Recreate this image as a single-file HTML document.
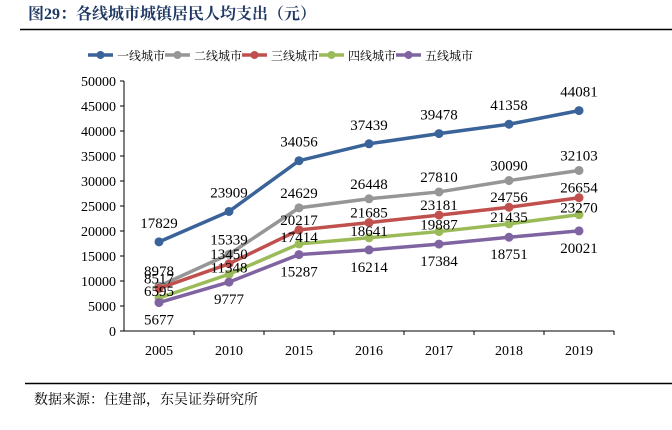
<!DOCTYPE html>
<html><head><meta charset="utf-8"><style>
body{margin:0;width:672px;height:425px;background:#fff;overflow:hidden;font-family:"Liberation Serif","Noto Serif CJK SC",serif}
</style></head><body>
<svg width="672" height="425">
<text x="28" y="19" font-size="16" font-weight="bold" fill="#1f3864" font-family="Liberation Serif, Noto Serif CJK SC, serif">图29：各线城市城镇居民人均支出（元）</text>
<line x1="20" y1="29.5" x2="672" y2="29.5" stroke="#000" stroke-width="1.5"/>
<line x1="25" y1="383.5" x2="672" y2="383.5" stroke="#000" stroke-width="1.5"/>
<text x="34" y="404" font-size="14" fill="#000" font-family="Liberation Serif, Noto Serif CJK SC, serif">数据来源：住建部，东吴证券研究所</text>
<g id="plot"></g>
</svg>
<script>
const categories=["2005","2010","2015","2016","2017","2018","2019"];
const seriesNames=["一线城市","二线城市","三线城市","四线城市","五线城市"];
const tier1=[17829,23909,34056,37439,39478,41358,44081];
const tier2=[8978,15339,24629,26448,27810,30090,32103];
const tier3=[8517,13450,20217,21685,23181,24756,26654];
const tier4=[6595,11348,17414,18641,19887,21435,23270];
const tier5=[5677,9777,15287,16214,17384,18751,20021];
const yTicks=[0,5000,10000,15000,20000,25000,30000,35000,40000,45000,50000];
const series=[tier1,tier2,tier3,tier4,tier5];
const colors=["#3a6399","#969696","#c0504d","#9bbb59","#8064a2"];
const dys=[-19,-15,-10,-7,17];
const NS="http://www.w3.org/2000/svg";
const g=document.getElementById("plot");
const x0=124,y0=331,yMax=50000,ph=250,cw=70;
const X=i=>x0+cw*(i+0.5);
const Y=v=>y0-v/yMax*ph;
function mk(t,a,p){const e=document.createElementNS(NS,t);for(const k in a)e.setAttribute(k,a[k]);(p||g).appendChild(e);return e;}
let ax=mk("line",{x1:x0,y1:y0,x2:x0+cw*categories.length,y2:y0,stroke:"#000"});


let ay=mk("line",{x1:x0,y1:Y(yMax),x2:x0,y2:y0,stroke:"#000"});


yTicks.forEach(v=>{
 mk("line",{x1:x0-4,x2:x0,y1:Y(v),y2:Y(v),stroke:"#000"});
 const t=mk("text",{x:x0-8,y:Y(v)+5,"text-anchor":"end","font-size":14});t.textContent=v;
 
 
});
categories.forEach((c,i)=>{
 mk("line",{x1:x0+cw*(i+1),x2:x0+cw*(i+1),y1:y0,y2:y0+4,stroke:"#000"});
 const t=mk("text",{x:X(i),y:y0+24,"text-anchor":"middle","font-size":14});t.textContent=c;
 
 
});
series.forEach((s,k)=>{
 const p=mk("polyline",{points:s.map((v,i)=>X(i)+","+Y(v)).join(" "),fill:"none",stroke:colors[k],"stroke-width":3.5});
 
 
 s.forEach((v,i)=>{
  const c=mk("circle",{cx:X(i),cy:Y(v),r:4.5,fill:colors[k]});
  
  
 });
});
series.forEach((s,k)=>{
 s.forEach((v,i)=>{
  const t=mk("text",{x:X(i),y:Y(v)+dys[k]+5,"text-anchor":"middle","font-size":15});t.textContent=v;
  
  
 });
});
seriesNames.forEach((n,k)=>{
 const x=88+k*77;
 mk("line",{x1:x,x2:x+25,y1:55,y2:55,stroke:colors[k],"stroke-width":3.5});
 mk("circle",{cx:x+12.5,cy:55,r:4,fill:colors[k]});
 const t=mk("text",{x:x+29,y:60,"font-size":12,"font-family":"Liberation Serif, Noto Serif CJK SC, serif"});t.textContent=n;
 
 
});
</script>
</body></html>
